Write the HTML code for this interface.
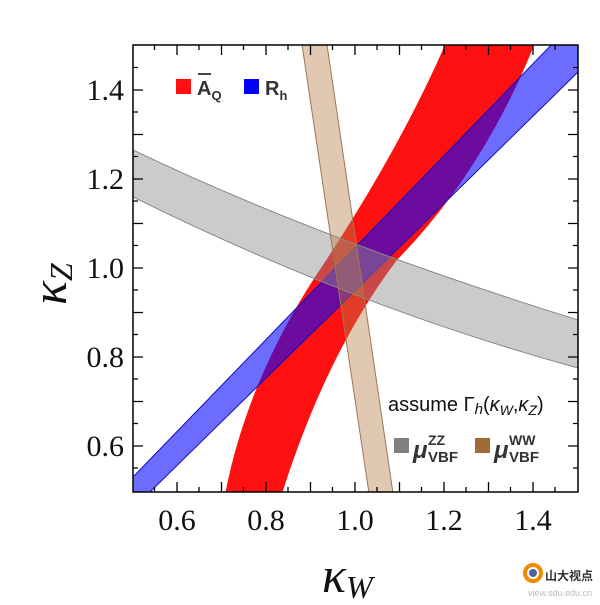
<!DOCTYPE html>
<html><head><style>body{margin:0;background:#fff}</style></head><body>
<svg width="600" height="600" xmlns="http://www.w3.org/2000/svg">
<defs><clipPath id="c"><rect x="133" y="45" width="445" height="447"/></clipPath></defs>
<g clip-path="url(#c)">
<path d="M224,500 Q245,385 315,277 Q400,150 448,38 L537,38 Q485,170 397,260 Q325,355 280,500 Z" fill="#ff1010"/>
<path d="M120,490 L133,477 L556,40 L590,40 L590,60 L578,72 L150,492 L120,500 Z" fill="rgba(10,10,255,0.6)" stroke="#1010c0" stroke-width="1"/>
<path d="M110,140 L133,150 Q318,239 578,320 L600,326 L600,374 L578,368 Q355,307 133,197 L110,186 Z" fill="rgba(140,140,140,0.45)" stroke="#888" stroke-width="1"/>
<path d="M301,38 Q330,237 370,500 L394,500 Q356,237 326,38 Z" fill="rgba(180,125,75,0.42)" stroke="#a07850" stroke-width="1"/>
</g>
<rect x="133" y="45" width="445" height="447" fill="none" stroke="#000" stroke-width="1.5"/>
<g stroke="#000" stroke-width="1.3">
<path d="M154.5,492v-5M199,492v-5M243.5,492v-5M288,492v-5M332.5,492v-5M377,492v-5M421.5,492v-5M466,492v-5M510.5,492v-5M555,492v-5
M177,492v-10M221.5,492v-10M266,492v-10M310.5,492v-10M355,492v-10M399.5,492v-10M444,492v-10M488.5,492v-10M533,492v-10
M154.5,45v5M199,45v5M243.5,45v5M288,45v5M332.5,45v5M377,45v5M421.5,45v5M466,45v5M510.5,45v5M555,45v5
M177,45v10M221.5,45v10M266,45v10M310.5,45v10M355,45v10M399.5,45v10M444,45v10M488.5,45v10M533,45v10"/>
<path d="M133,67.5h5M133,112h5M133,156.5h5M133,201h5M133,245.5h5M133,290h5M133,334.5h5M133,379h5M133,423.5h5M133,468h5
M133,90h10M133,134.5h10M133,179h10M133,223.5h10M133,268h10M133,312.5h10M133,357h10M133,401.5h10M133,446h10
M578,67.5h-5M578,112h-5M578,156.5h-5M578,201h-5M578,245.5h-5M578,290h-5M578,334.5h-5M578,379h-5M578,423.5h-5M578,468h-5
M578,90h-10M578,134.5h-10M578,179h-10M578,223.5h-10M578,268h-10M578,312.5h-10M578,357h-10M578,401.5h-10M578,446h-10"/>
</g>
<g font-family="Liberation Serif, serif" font-size="30" fill="#111">
<g text-anchor="middle"><text x="177" y="530">0.6</text><text x="266" y="530">0.8</text><text x="355" y="530">1.0</text><text x="444" y="530">1.2</text><text x="533" y="530">1.4</text></g>
<g text-anchor="end"><text x="124" y="100">1.4</text><text x="124" y="189">1.2</text><text x="124" y="278">1.0</text><text x="124" y="367">0.8</text><text x="124" y="456">0.6</text></g>
<text x="322" y="592" font-size="50" font-style="italic">κ<tspan font-size="32" dy="6">W</tspan></text>
<text transform="translate(66,305) rotate(-90)" font-size="50" font-style="italic">κ<tspan font-size="32" dy="6">Z</tspan></text>
</g>
<g font-family="Liberation Sans, sans-serif" font-weight="bold" fill="#333">
<rect x="176" y="79" width="15" height="15" fill="#ff1010"/>
<text x="197" y="95" font-size="20">A<tspan font-size="13" dy="5">Q</tspan></text>
<line x1="198" y1="74" x2="211" y2="74" stroke="#333" stroke-width="1.8"/>
<rect x="244" y="79" width="15" height="15" fill="#0000ff"/>
<text x="265" y="95" font-size="20">R<tspan font-size="13" dy="5">h</tspan></text>
</g>
<text x="388" y="411" font-family="Liberation Sans, sans-serif" font-size="20" fill="#111">assume Γ<tspan font-style="italic" font-size="15" dy="3">h</tspan><tspan dy="-3">(</tspan><tspan font-style="italic">κ</tspan><tspan font-style="italic" font-size="14" dy="4">W</tspan><tspan dy="-4">,</tspan><tspan font-style="italic">κ</tspan><tspan font-style="italic" font-size="14" dy="4">Z</tspan><tspan dy="-4">)</tspan></text>
<g font-family="Liberation Sans, sans-serif" font-weight="bold" fill="#333">
<rect x="394" y="438" width="15" height="15" fill="#808080"/>
<text x="413" y="458" font-size="24" font-style="italic">μ</text>
<text x="428" y="445" font-size="14">ZZ</text><text x="428" y="462" font-size="15">VBF</text>
<rect x="475" y="438" width="15" height="15" fill="#a06a35"/>
<text x="494" y="458" font-size="24" font-style="italic">μ</text>
<text x="509" y="445" font-size="14">WW</text><text x="509" y="462" font-size="15">VBF</text>
</g>
<g>
<circle cx="533" cy="573" r="8" fill="none" stroke="#f08a00" stroke-width="4"/>
<circle cx="533" cy="573" r="4" fill="#5060a0"/>
<text x="545" y="580" font-family="Noto Sans CJK SC, sans-serif" font-size="12" font-weight="bold" fill="#333">山大视点</text>
<text x="528" y="596" font-family="Liberation Sans, sans-serif" font-size="9" fill="#bbb">view.sdu.edu.cn</text>
</g>
</svg>
</body></html>
